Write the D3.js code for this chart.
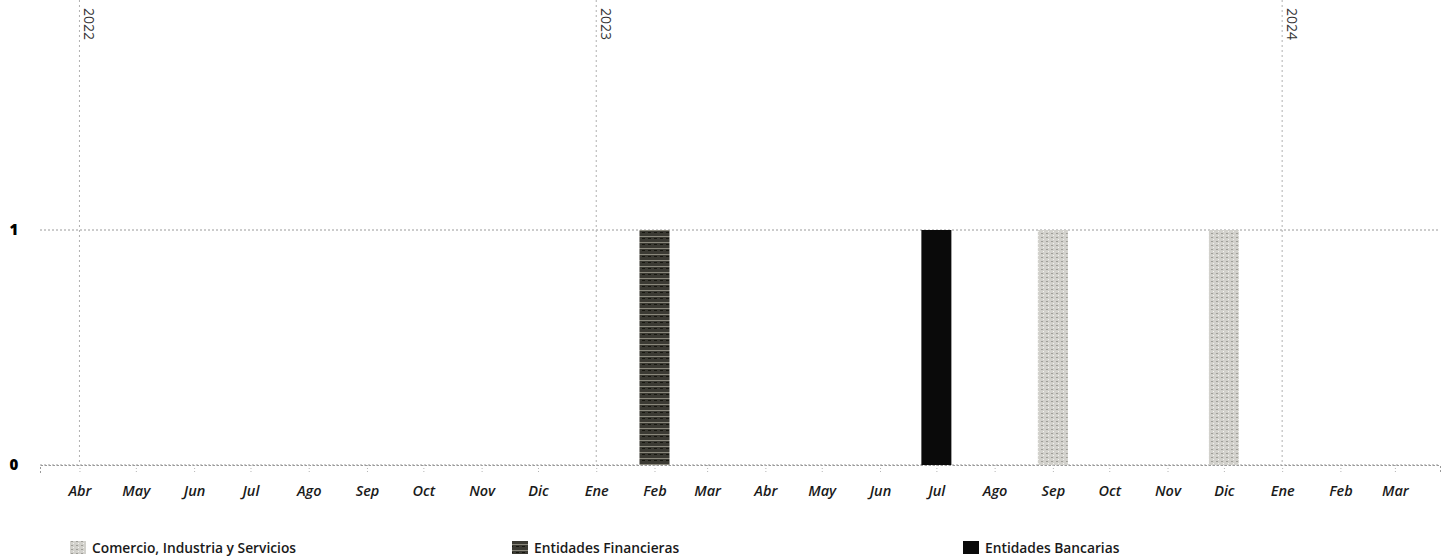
<!DOCTYPE html>
<html>
<head>
<meta charset="utf-8">
<script src="https://cdn.jsdelivr.net/npm/d3@7"></script>
<style>
  body { margin: 0; background: #fff; }
  svg { display: block; }
  text { font-family: "Open Sans", "Noto Sans", sans-serif; }
</style>
</head>
<body>
<svg id="chart" width="1444" height="560"></svg>
<script>
// data
const series = ["Comercio, Industria y Servicios", "Entidades Financieras", "Entidades Bancarias"];
const barMonths = ["2023-02-01", "2023-07-01", "2023-09-01", "2023-12-01"];
const barSeries = ["Entidades Financieras", "Entidades Bancarias", "Comercio, Industria y Servicios", "Comercio, Industria y Servicios"];
const barValues = [1, 1, 1, 1];
const monthNames = ["Ene", "Feb", "Mar", "Abr", "May", "Jun", "Jul", "Ago", "Sep", "Oct", "Nov", "Dic"];
const yearMarks = ["2022-04-01", "2023-01-01", "2024-01-01"];
const yTicks = [0, 1];

const parse = d3.timeParse("%Y-%m-%d");
const bars = barMonths.map((m, i) => ({ date: parse(m), key: barSeries[i], value: barValues[i] }));

var svg = d3.select("#chart"),
    margin = {top: 0, right: 4, bottom: 95, left: 40},
    width = +svg.attr("width"),
    height = +svg.attr("height");

var x = d3.scaleTime()
    .domain([parse("2022-03-11"), parse("2024-03-25")])
    .range([margin.left, width - margin.right]);

var y = d3.scaleLinear()
    .domain([0, 1])
    .range([465, 230]);

// textures
var defs = svg.append("defs");
var pf = defs.append("pattern").attr("id", "pat-fin")
    .attr("patternUnits", "userSpaceOnUse").attr("width", 6).attr("height", 6);
pf.append("rect").attr("width", 6).attr("height", 6).attr("fill", "#3b3a33");
pf.append("rect").attr("y", 2).attr("width", 6).attr("height", 1).attr("fill", "#8a887c");
pf.append("rect").attr("y", 4).attr("width", 3).attr("height", 1).attr("fill", "#16160f");
var pc = defs.append("pattern").attr("id", "pat-com")
    .attr("patternUnits", "userSpaceOnUse").attr("width", 5).attr("height", 4);
pc.append("rect").attr("width", 5).attr("height", 4).attr("fill", "#d2d1cc");
pc.append("rect").attr("x", 1).attr("y", 1).attr("width", 2).attr("height", 1).attr("fill", "#9f9e98");
pc.append("rect").attr("x", 3).attr("y", 3).attr("width", 1).attr("height", 1).attr("fill", "#f2f2ee");

var color = d3.scaleOrdinal()
    .domain(series)
    .range(["url(#pat-com)", "url(#pat-fin)", "#0a0a0a"]);

// horizontal grid
svg.append("g")
  .selectAll("line")
  .data(yTicks)
  .enter().append("line")
    .attr("x1", margin.left).attr("x2", width - margin.right)
    .attr("y1", d => y(d)).attr("y2", d => y(d))
    .attr("stroke", "#9a9a9a").attr("stroke-width", 1)
    .attr("stroke-dasharray", "2,2");

// y labels
svg.append("g")
  .selectAll("text")
  .data(yTicks)
  .enter().append("text")
    .attr("x", 14).attr("y", d => y(d))
    .attr("dy", "0.35em")
    .attr("text-anchor", "middle")
    .attr("font-size", 15).attr("font-weight", 800)
    .attr("fill", "#000")
    .text(d => d);

// year lines
var yg = svg.append("g");
yearMarks.forEach(function(s) {
  var d = parse(s);
  yg.append("line")
    .attr("x1", x(d)).attr("x2", x(d))
    .attr("y1", 0).attr("y2", y(0))
    .attr("stroke", "#b0b0b0").attr("stroke-dasharray", "2,3");
  yg.append("text")
    .attr("transform", "translate(" + (x(d) + 5) + ",8) rotate(90)")
    .attr("font-size", 14).attr("fill", "#333")
    .text(d.getFullYear());
});

// x axis
var xAxis = d3.axisBottom(x)
    .ticks(d3.timeMonth.every(1))
    .tickSize(8)
    .tickFormat(d => monthNames[d.getMonth()]);

var gx = svg.append("g")
    .attr("transform", "translate(0," + y(0) + ")")
    .call(xAxis);
gx.select(".domain").attr("stroke", "#9a9a9a").attr("stroke-dasharray", "2,2");
gx.selectAll(".tick line").attr("stroke", "#b5b5b5").attr("stroke-dasharray", "1,2");
gx.selectAll(".tick text")
    .attr("y", 21)
    .attr("font-size", 14.5)
    .attr("font-style", "italic")
    .attr("font-weight", 600)
    .attr("fill", "#1a1a1a")
    .attr("font-family", "\"Open Sans\", sans-serif");

// bars
var barW = 30;
svg.append("g")
  .selectAll("rect")
  .data(bars)
  .enter().append("rect")
    .attr("x", d => x(d.date) - barW / 2)
    .attr("width", barW)
    .attr("y", d => y(d.value))
    .attr("height", d => y(0) - y(d.value))
    .attr("fill", d => color(d.key));

// legend
var legendX = [70, 512, 963];
var lg = svg.append("g").attr("transform", "translate(0,548)");
series.forEach(function(s, i) {
  lg.append("rect")
    .attr("x", legendX[i]).attr("y", -7)
    .attr("width", 16).attr("height", 13)
    .attr("fill", color(s));
  lg.append("text")
    .attr("x", legendX[i] + 22).attr("y", 0)
    .attr("dy", "0.35em")
    .attr("font-size", 13.8).attr("font-weight", 600).attr("fill", "#1a1a1a")
    .attr("textLength", null)
    .text(s);
});
</script>
</body>
</html>
